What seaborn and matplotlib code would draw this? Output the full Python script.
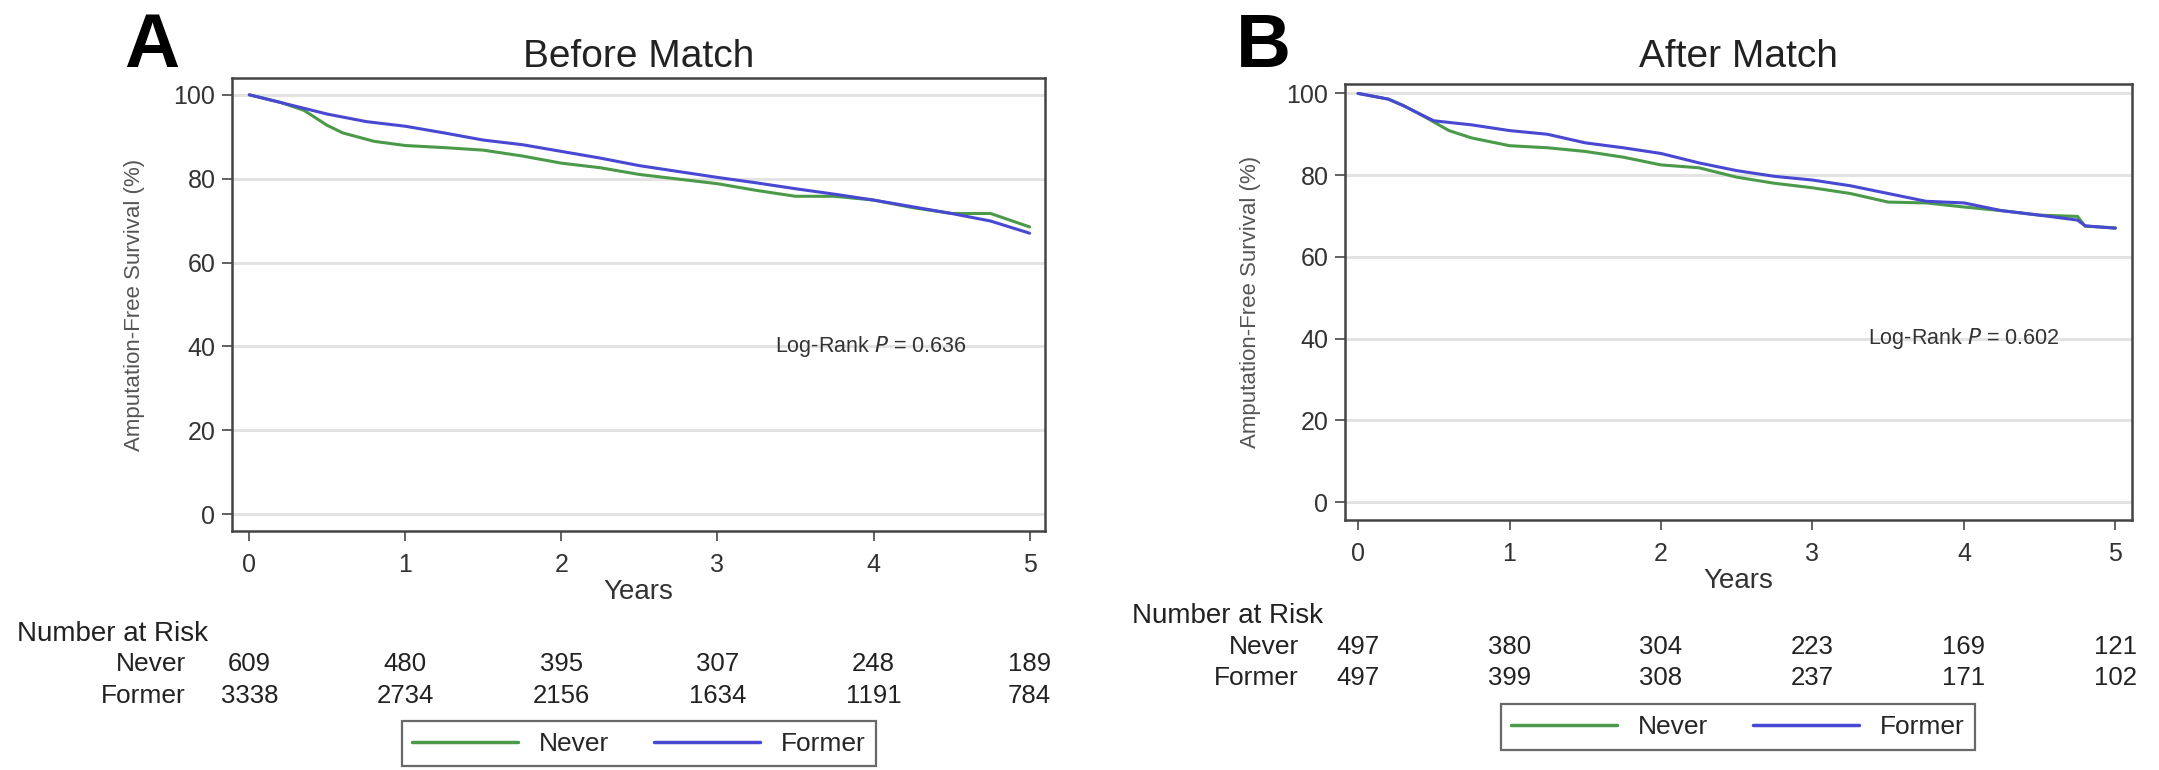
import matplotlib
matplotlib.use("Agg")
import matplotlib.pyplot as plt
import matplotlib.transforms as mtransforms
from matplotlib import font_manager
from matplotlib.lines import Line2D
import seaborn as sns
import pandas as pd

# ---- data ----
years = [0, 1, 2, 3, 4, 5]

# panel A - before match
a_never_t = [0, 0.2, 0.35, 0.5, 0.6, 0.8, 1.0, 1.25, 1.5, 1.75, 2.0, 2.25, 2.5, 2.75,
             3.0, 3.25, 3.5, 3.75, 4.0, 4.25, 4.5, 4.75, 5.0]
a_never_s = [100, 98.2, 96.3, 92.7, 90.9, 88.9, 87.9, 87.4, 86.8, 85.4, 83.7, 82.6, 81.0, 79.9,
             78.8, 77.2, 75.8, 75.8, 74.9, 73.1, 71.7, 71.7, 68.5]
a_former_t = [0, 0.25, 0.5, 0.75, 1.0, 1.25, 1.5, 1.75, 2.0, 2.25, 2.5, 2.75,
              3.0, 3.25, 3.5, 3.75, 4.0, 4.25, 4.5, 4.75, 5.0]
a_former_s = [100, 97.7, 95.4, 93.6, 92.5, 90.9, 89.2, 88.1, 86.5, 84.9, 83.1, 81.7,
              80.3, 79.0, 77.6, 76.3, 74.9, 73.3, 71.7, 69.9, 67.0]

# panel B - after match
b_never_t = [0, 0.1, 0.2, 0.3, 0.4, 0.5, 0.6, 0.75, 1.0, 1.25, 1.5, 1.75, 2.0, 2.25, 2.5, 2.75,
             3.0, 3.25, 3.5, 3.75, 4.0, 4.25, 4.5, 4.75, 4.8, 5.0]
b_never_s = [100, 99.3, 98.6, 97.0, 95.1, 93.0, 90.9, 89.1, 87.2, 86.7, 85.8, 84.4, 82.5, 81.8, 79.5, 78.0,
             76.9, 75.5, 73.4, 73.2, 72.2, 71.3, 70.2, 69.9, 67.5, 67.1]
b_former_t = [0, 0.1, 0.2, 0.3, 0.4, 0.5, 0.75, 1.0, 1.25, 1.5, 1.75, 2.0, 2.25, 2.5, 2.75,
              3.0, 3.25, 3.5, 3.75, 4.0, 4.25, 4.5, 4.75, 4.8, 5.0]
b_former_s = [100, 99.3, 98.6, 97.0, 95.1, 93.3, 92.3, 90.9, 90.0, 87.9, 86.7, 85.3, 83.0, 81.1, 79.7,
              78.8, 77.4, 75.5, 73.6, 73.2, 71.3, 70.2, 69.0, 67.6, 67.0]

a_risk_never = [609, 480, 395, 307, 248, 189]
a_risk_former = [3338, 2734, 2156, 1634, 1191, 784]
b_risk_never = [497, 380, 304, 223, 169, 121]
b_risk_former = [497, 399, 308, 237, 171, 102]

GROUPS = ["Never", "Former"]
COLORS = {"Never": "#4a9a4a", "Former": "#4848d2"}


def make_df(nt, ns, ft, fs):
    d1 = pd.DataFrame({"Years": nt, "Survival": ns, "Group": "Never"})
    d2 = pd.DataFrame({"Years": ft, "Survival": fs, "Group": "Former"})
    return pd.concat([d1, d2], ignore_index=True)


sns.set_theme(style="white")
names = {f.name for f in font_manager.fontManager.ttflist}
FONT = "Liberation Sans" if "Liberation Sans" in names else "DejaVu Sans"
plt.rcParams["font.family"] = [FONT, "DejaVu Sans"]

fig = plt.figure(figsize=(21.59, 7.7), dpi=100)

panels = [
    dict(rect=[0.1075, 0.3104, 0.3766, 0.5883], ylim=(-4, 104), xlim=(-0.11, 5.1),
         df=make_df(a_never_t, a_never_s, a_former_t, a_former_s), title="Before Match",
         tpad=8, letter="A", lx=0.0574, pval="Log-Rank $\\it{P}$ = 0.636",
         risk=(a_risk_never, a_risk_former), nar_x=0.0079, nar_y=0.1766,
         row_x=0.0862, row_y=(0.1377, 0.0961), leg=(0.296, 0.034)),
    dict(rect=[0.623, 0.3247, 0.3645, 0.5662], ylim=(-4.4, 102.3), xlim=(-0.086, 5.11),
         df=make_df(b_never_t, b_never_s, b_former_t, b_former_s), title="After Match",
         tpad=12, letter="B", lx=0.5725, pval="Log-Rank $\\it{P}$ = 0.602",
         risk=(b_risk_never, b_risk_former), nar_x=0.5243, nar_y=0.2,
         row_x=0.6017, row_y=(0.1597, 0.1195), leg=(0.805, 0.0558)),
]

for p in panels:
    ax = fig.add_axes(p["rect"])
    ax.grid(axis="y", color="#e3e3e3", linewidth=2.2)
    ax.set_axisbelow(True)
    sns.lineplot(data=p["df"], x="Years", y="Survival", hue="Group", hue_order=GROUPS,
                 palette=COLORS, estimator=None, sort=False, linewidth=2.2, legend=False, ax=ax)
    ax.set_xlim(*p["xlim"])
    ax.set_ylim(*p["ylim"])
    ax.set_xticks(years)
    ax.set_yticks([0, 20, 40, 60, 80, 100])
    ax.tick_params(axis="both", direction="out", length=7, width=1.3, color="#555555",
                   labelsize=18, labelcolor="#333333", pad=5, bottom=True, left=True)
    ax.tick_params(axis="x", pad=9)
    for sp in ax.spines.values():
        sp.set_color("#444444")
        sp.set_linewidth(1.8)
    ax.set_xlabel("Years", fontsize=20, color="#333333", labelpad=1)
    ax.set_ylabel("Amputation-Free Survival (%)", fontsize=16, color="#555555")
    ax.yaxis.set_label_coords(-0.107, 0.5)
    ax.set_title(p["title"], fontsize=28, color="#222222", pad=p["tpad"])
    ax.text(3.37, 40, p["pval"], fontsize=15.5, color="#333333", ha="left", va="center")

    fig.text(p["lx"], 0.913, p["letter"], fontsize=55, fontweight="bold", color="black",
             ha="left", va="baseline")

    # number at risk table
    trans = mtransforms.blended_transform_factory(ax.transData, fig.transFigure)
    fig.text(p["nar_x"], p["nar_y"], "Number at Risk", fontsize=20, color="#222222",
             ha="left", va="center")
    for label, counts, ry in zip(GROUPS, p["risk"], p["row_y"]):
        fig.text(p["row_x"], ry, label, fontsize=19, color="#222222", ha="right", va="center")
        for yr, n in zip(years, counts):
            ax.text(yr, ry, str(n), transform=trans, fontsize=18.5, color="#222222",
                    ha="center", va="center")

    handles = [Line2D([0], [0], color=COLORS[g], linewidth=2.5) for g in GROUPS]
    leg = fig.legend(handles, GROUPS, loc="center", bbox_to_anchor=p["leg"], ncol=2,
                     fontsize=19, frameon=True, fancybox=False, handlelength=4.0,
                     columnspacing=1.7, handletextpad=0.8, borderpad=0.4)
    leg.get_frame().set_edgecolor("#444444")
    leg.get_frame().set_linewidth(1.6)

fig.savefig("out.png", dpi=100, facecolor="white")
